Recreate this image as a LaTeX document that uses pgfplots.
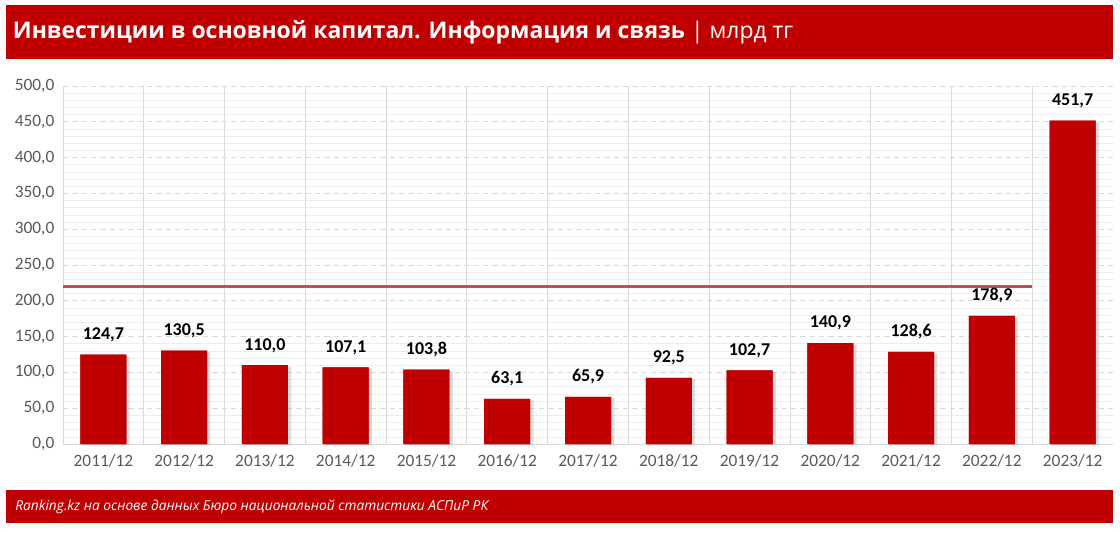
\documentclass[border=0pt]{standalone}
\usepackage{fontspec}
\setmainfont{Carlito}
\newfontfamily\titlefont{Open Sans}
\usepackage{pgfplots}
\pgfplotsset{compat=1.18}
\usetikzlibrary{shadows}
\definecolor{krred}{HTML}{C00000}
\definecolor{tickgray}{HTML}{595959}
\definecolor{gridgray}{HTML}{D9D9D9}
\definecolor{minorgray}{HTML}{EDEDED}
\definecolor{refline}{HTML}{C0504D}
\pgfplotstableread{
x val
0 124.7
1 130.5
2 110.0
3 107.1
4 103.8
5 63.1
6 65.9
7 92.5
8 102.7
9 140.9
10 128.6
11 178.9
12 451.7
}\datatable
\begin{document}
\begin{tikzpicture}
\path[fill=white] (0,0) rectangle (840pt,-413.25pt);
\fill[krred] (4.5pt,-3.75pt) rectangle (834.75pt,-44.25pt);
\node[anchor=west, inner sep=0pt, text=white, font=\titlefont\fontsize{17.2}{20}\selectfont] at (9.5pt,-24pt) {\textbf{Инвестиции в основной капитал. Информация и связь} | млрд тг};
\fill[krred] (4.5pt,-367.5pt) rectangle (834.75pt,-392.25pt);
\node[anchor=west, inner sep=0pt, text=white, font=\titlefont\itshape\fontsize{10.3}{12}\selectfont] at (11.25pt,-380pt) {Ranking.kz на основе данных Бюро национальной статистики АСПиР РК};
\begin{axis}[
  at={(47.25pt,-64.5pt)}, anchor=north west,
  width=787.5pt, height=268.5pt, scale only axis,
  xmin=-0.5, xmax=12.5, ymin=0, ymax=500,
  xtick={0,...,12},
  xticklabels={2011/12,2012/12,2013/12,2014/12,2015/12,2016/12,2017/12,2018/12,2019/12,2020/12,2021/12,2022/12,2023/12},
  ytick={0,50,...,500},
  minor y tick num=4,
  ymajorgrids, yminorgrids,
  major grid style={gridgray, dash pattern=on 4pt off 3pt, line width=0.6pt},
  minor grid style={minorgray, line width=0.4pt},
  extra x ticks={0.5,1.5,...,11.5},
  extra x tick labels={},
  extra x tick style={grid=major, major grid style={gridgray, solid, line width=0.6pt}},
  axis x line*=bottom, axis y line*=left,
  axis line style={gridgray, line width=0.6pt, -},
  tick style={draw=none},
  ticklabel style={font=\fontsize{13}{15}\selectfont, text=tickgray},
  yticklabel style={xshift=-3pt, /pgf/number format/.cd, fixed, fixed zerofill, precision=1, use comma, assume math mode=true},
  xticklabel style={yshift=-4pt},
  clip=false,
]
\addplot[ybar, bar width=34.5pt, fill=krred, draw=none,
  preaction={drop shadow={shadow xshift=2.5pt, shadow yshift=-1pt, opacity=0.25}},
  nodes near coords,
  nodes near coords style={font=\bfseries\fontsize{13.5}{15}\selectfont, text=black, yshift=6pt,
    /pgf/number format/.cd, fixed, fixed zerofill, precision=1, use comma, assume math mode=true}]
  table[x=x, y=val] {\datatable};
\addplot[refline, line width=2.8pt, forget plot] coordinates {(-0.5,220) (11.5,220)};
\end{axis}
\end{tikzpicture}
\end{document}
